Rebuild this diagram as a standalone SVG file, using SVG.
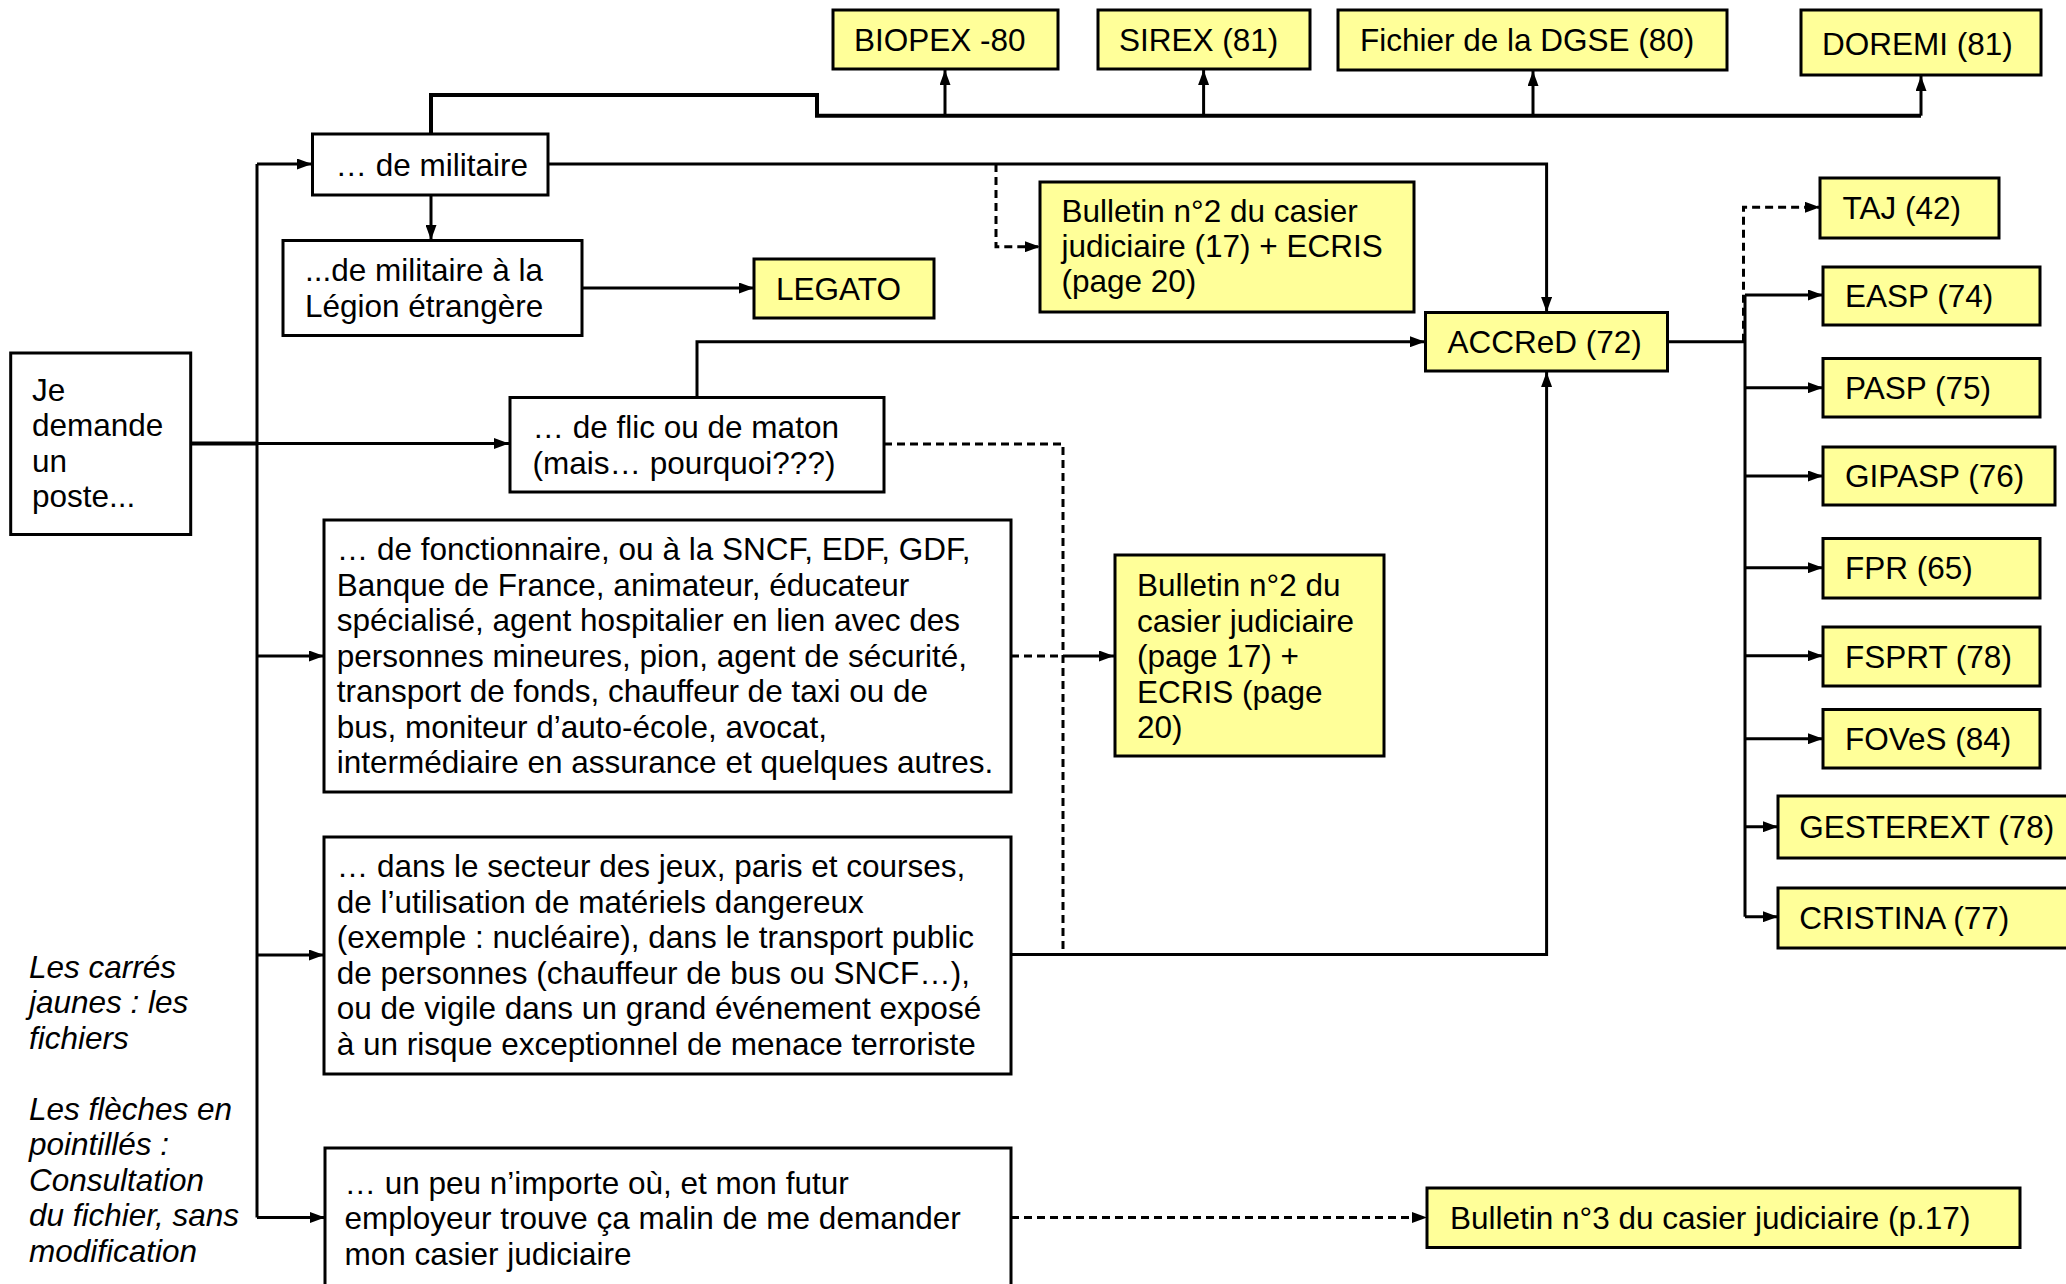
<svg xmlns="http://www.w3.org/2000/svg" width="2066" height="1284" viewBox="0 0 2066 1284">
<style>
.b{fill:#fff;stroke:#000;stroke-width:3}
.y{fill:#ffff99;stroke:#000;stroke-width:3}
text{font-family:"Liberation Sans",Arial,sans-serif;font-size:31.5px;fill:#000}
.i{font-style:italic}
.c{fill:none;stroke:#000;stroke-width:3}
.d{fill:none;stroke:#000;stroke-width:3;stroke-dasharray:8,5}
.a{marker-end:url(#ah)}
</style>
<defs>
<marker id="ah" markerUnits="userSpaceOnUse" markerWidth="16" markerHeight="11" refX="15" refY="5.5" orient="auto">
<path d="M0,0 L15,5.5 L0,11 z" fill="#000"/>
</marker>
</defs>
<rect width="2066" height="1284" fill="#fff"/>

<g id="connectors">
<path class="c" d="M431,133 V95 H817 V115.7 H1921" style="stroke-width:4"/>
<path class="c a" d="M945,115.7 V70"/>
<path class="c a" d="M1203.6,115.7 V70"/>
<path class="c a" d="M1533,115.7 V71"/>
<path class="c a" d="M1921,115.7 V76"/>
<path class="c a" d="M431,195 V240"/>
<path class="c a" d="M582,288 H754"/>
<path class="c a" d="M548,164 H1546.6 V312"/>
<path class="d a" d="M996,164 V246.7 H1040"/>
<path class="c" d="M190,443.5 H258" style="stroke-width:4"/>
<path class="c a" d="M258,443.5 H509"/>
<path class="c" d="M257,164 V1217.5"/>
<path class="c a" d="M257,164 H312"/>
<path class="c a" d="M257,656 H324"/>
<path class="c a" d="M257,955 H324"/>
<path class="c a" d="M257,1217.5 H325"/>
<path class="c a" d="M697,397.5 V341.7 H1425"/>
<path class="d" d="M884,444 H1063 V955"/>
<path class="d" d="M1011,656 H1063"/>
<path class="c a" d="M1063,656 H1114"/>
<path class="c a" d="M1011,954.5 H1546.6 V372"/>
<path class="d a" d="M1011,1217.5 H1427"/>
<path class="c" d="M1667,341.7 H1745"/>
<path class="d a" d="M1743.5,341.7 V207.3 H1820"/>
<path class="c" d="M1745,295 V916.7"/>
<path class="c a" d="M1745,295 H1823"/>
<path class="c a" d="M1745,387.7 H1823"/>
<path class="c a" d="M1745,476 H1823"/>
<path class="c a" d="M1745,567.7 H1823"/>
<path class="c a" d="M1745,655.7 H1823"/>
<path class="c a" d="M1745,738.7 H1823"/>
<path class="c a" d="M1745,826.7 H1778"/>
<path class="c a" d="M1745,916.7 H1778"/>
</g>

<g id="biopex"><rect class="y" x="833" y="10" width="225" height="59"/><text x="854" y="51">BIOPEX -80</text></g>
<g id="sirex"><rect class="y" x="1098" y="10" width="212" height="59"/><text x="1119" y="51">SIREX (81)</text></g>
<g id="dgse"><rect class="y" x="1338" y="10" width="389" height="60"/><text x="1360" y="51">Fichier de la DGSE (80)</text></g>
<g id="doremi"><rect class="y" x="1801" y="10" width="240" height="65"/><text x="1822" y="55">DOREMI (81)</text></g>

<g id="militaire"><rect class="b" x="312.5" y="134" width="235.5" height="61"/><text x="335.5" y="176">… de militaire</text></g>
<g id="legion"><rect class="b" x="283" y="240.5" width="299" height="95"/><text x="305" y="281">...de militaire à la</text><text x="305" y="316.5">Légion étrangère</text></g>
<g id="legato"><rect class="y" x="754" y="259" width="180" height="59"/><text x="776" y="300">LEGATO</text></g>
<g id="bulletin2a"><rect class="y" x="1040" y="182" width="374" height="130"/><text x="1061.5" y="221.5">Bulletin n°2 du casier</text><text x="1061.5" y="257">judiciaire (17) + ECRIS</text><text x="1061.5" y="292">(page 20)</text></g>
<g id="accred"><rect class="y" x="1425.5" y="312.5" width="242" height="58.5"/><text x="1447.5" y="353">ACCReD (72)</text></g>

<g id="jedemande"><rect class="b" x="10.7" y="353" width="180" height="181.5"/><text x="32" y="400.7">Je</text><text x="32" y="436.2">demande</text><text x="32" y="471.7">un</text><text x="32" y="507.2">poste...</text></g>
<g id="flic"><rect class="b" x="510" y="397.5" width="374" height="94.5"/><text x="532.5" y="438">… de flic ou de maton</text><text x="532.5" y="473.5">(mais… pourquoi???)</text></g>
<g id="fonctionnaire"><rect class="b" x="324" y="520" width="687" height="272"/>
<text x="336.7" y="560">… de fonctionnaire, ou à la SNCF, EDF, GDF,</text>
<text x="336.7" y="595.5">Banque de France, animateur, éducateur</text>
<text x="336.7" y="631">spécialisé, agent hospitalier en lien avec des</text>
<text x="336.7" y="666.5">personnes mineures, pion, agent de sécurité,</text>
<text x="336.7" y="702">transport de fonds, chauffeur de taxi ou de</text>
<text x="336.7" y="737.5">bus, moniteur d’auto-école, avocat,</text>
<text x="336.7" y="773">intermédiaire en assurance et quelques autres.</text></g>
<g id="bulletin2b"><rect class="y" x="1115" y="555" width="269" height="201"/>
<text x="1137" y="596">Bulletin n°2 du</text>
<text x="1137" y="631.5">casier judiciaire</text>
<text x="1137" y="667">(page 17) +</text>
<text x="1137" y="702.5">ECRIS (page</text>
<text x="1137" y="738">20)</text></g>
<g id="jeux"><rect class="b" x="324" y="837" width="687" height="237"/>
<text x="336.7" y="877">… dans le secteur des jeux, paris et courses,</text>
<text x="336.7" y="912.5">de l’utilisation de matériels dangereux</text>
<text x="336.7" y="948">(exemple : nucléaire), dans le transport public</text>
<text x="336.7" y="983.5">de personnes (chauffeur de bus ou SNCF…),</text>
<text x="336.7" y="1019">ou de vigile dans un grand événement exposé</text>
<text x="336.7" y="1054.5">à un risque exceptionnel de menace terroriste</text></g>
<g id="peu"><rect class="b" x="325" y="1148" width="686" height="160"/>
<text x="344.4" y="1193.5">… un peu n’importe où, et mon futur</text>
<text x="344.4" y="1229">employeur trouve ça malin de me demander</text>
<text x="344.4" y="1264.5">mon casier judiciaire</text></g>
<g id="bulletin3"><rect class="y" x="1427" y="1188" width="593" height="59.5"/><text x="1450" y="1228.8">Bulletin n°3 du casier judiciaire (p.17)</text></g>

<g id="taj"><rect class="y" x="1820" y="178" width="179" height="60"/><text x="1842.6" y="219">TAJ (42)</text></g>
<g id="easp"><rect class="y" x="1823" y="267" width="217" height="58"/><text x="1845" y="307">EASP (74)</text></g>
<g id="pasp"><rect class="y" x="1823" y="358.5" width="217" height="58.5"/><text x="1845" y="398.5">PASP (75)</text></g>
<g id="gipasp"><rect class="y" x="1823" y="447" width="232" height="58"/><text x="1845" y="487">GIPASP (76)</text></g>
<g id="fpr"><rect class="y" x="1823" y="538.5" width="217" height="59.5"/><text x="1845" y="579">FPR (65)</text></g>
<g id="fsprt"><rect class="y" x="1823" y="627" width="217" height="59"/><text x="1845" y="667.5">FSPRT (78)</text></g>
<g id="foves"><rect class="y" x="1823" y="709.5" width="217" height="58.5"/><text x="1845" y="749.5">FOVeS (84)</text></g>
<g id="gesterext"><rect class="y" x="1778" y="796" width="300" height="62"/><text x="1799.3" y="838">GESTEREXT (78)</text></g>
<g id="cristina"><rect class="y" x="1778" y="888" width="300" height="60"/><text x="1799.3" y="929">CRISTINA (77)</text></g>

<g id="legend">
<text class="i" x="29" y="977.5">Les carrés</text>
<text class="i" x="29" y="1013">jaunes : les</text>
<text class="i" x="29" y="1048.5">fichiers</text>
<text class="i" x="29" y="1119.5">Les flèches en</text>
<text class="i" x="29" y="1155">pointillés :</text>
<text class="i" x="29" y="1190.5">Consultation</text>
<text class="i" x="29" y="1226">du fichier, sans</text>
<text class="i" x="29" y="1261.5">modification</text>
</g>
</svg>
